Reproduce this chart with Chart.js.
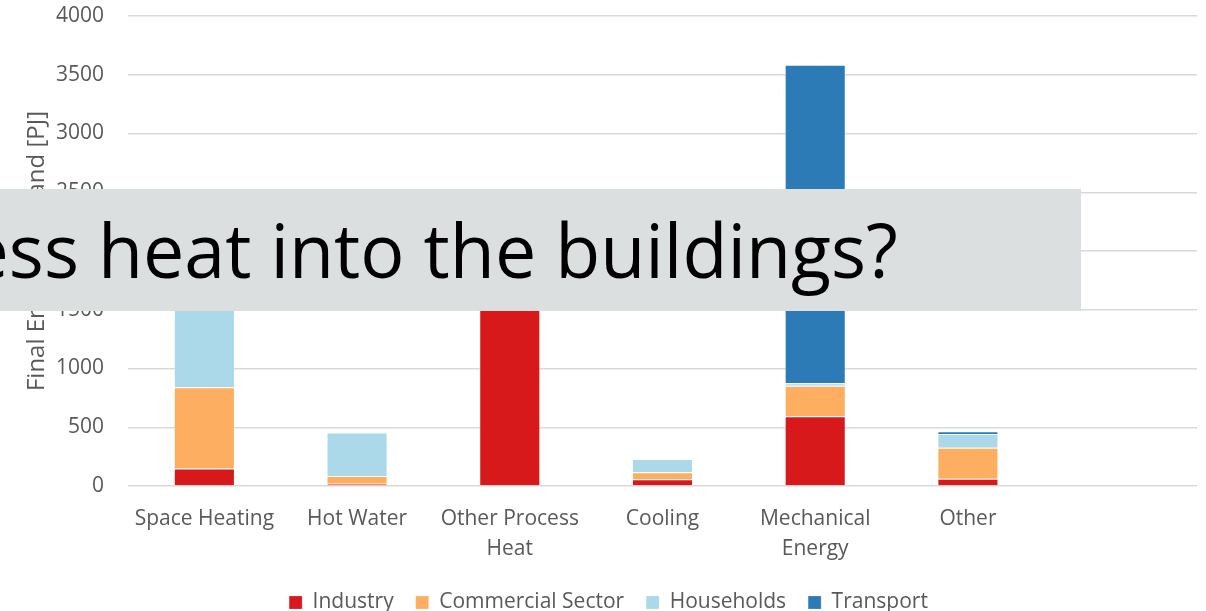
<!DOCTYPE html>
<html>
<head>
<meta charset="utf-8">
<script src="https://cdn.jsdelivr.net/npm/chart.js@4"></script>
<style>
    html, body { margin: 0; padding: 0; background: #fff; }
    #wrap { position: relative; width: 1206px; height: 611px; overflow: hidden; }
    #banner {
        position: absolute; left: 0; top: 189px; width: 1081px; height: 122px;
        background: #dcdfe0; overflow: hidden;
    }
    #banner span {
        position: absolute; right: 183px; top: 23px;
        font-family: "Open Sans", sans-serif; font-size: 75px; line-height: 75px;
        color: #000; white-space: nowrap;
        transform: scaleX(0.98); transform-origin: right center;
    }
</style>
</head>
<body>
<div id="wrap">
    <canvas id="demandChart" width="1206" height="623"></canvas>
    <div id="banner"><span>How to bring process heat into the buildings?</span></div>
</div>
<script>
// Final energy demand by use and sector [PJ]
const categories = ['Space Heating', 'Hot Water', ['Other Process', 'Heat'], 'Cooling', ['Mechanical', 'Energy'], 'Other', ''];
const industry   = [150, 20, 1900, 57, 593, 62, null];
const commercial = [690, 65, 0, 60, 261, 264, null];
const households = [1160, 370, 0, 113, 20, 117, null];
const transport  = [0, 0, 0, 0, 2712, 22, null];
const yTicks = [0, 500, 1000, 1500, 2000, 2500, 3000, 3500, 4000];

const textColor = '#595959';
const gridColor = '#d9d9d9';
const font = { family: 'Open Sans', size: 21 };
const legendGap = 22;

function series(label, data, color) {
    return {
        label: label,
        data: data,
        backgroundColor: color,
        borderColor: 'rgba(255, 255, 255, 0.2)',
        borderWidth: 1,
        categoryPercentage: 1,
        barPercentage: 0.4
    };
}

new Chart(document.getElementById('demandChart'), {
    type: 'bar',
    data: {
        labels: categories,
        datasets: [
            series('Industry', industry, '#d7191c'),
            series('Commercial Sector', commercial, '#fdae61'),
            series('Households', households, '#abd9e9'),
            series('Transport', transport, '#2c7bb6')
        ]
    },
    options: {
        responsive: false,
        animation: false,
        layout: { padding: { top: 16, right: 9, bottom: 0, left: 20 } },
        plugins: {
            tooltip: { enabled: false },
            legend: {
                position: 'bottom',
                labels: {
                    color: textColor,
                    font: font,
                    boxWidth: 13,
                    boxHeight: 13,
                    padding: legendGap
                }
            }
        },
        scales: {
            x: {
                stacked: true,
                grid: { display: false },
                border: { display: false },
                afterFit: (scale) => { scale.height = 106 - legendGap; },
                ticks: {
                    color: textColor,
                    font: { family: 'Open Sans', size: 21, lineHeight: 30 / 21 },
                    padding: 10,
                    maxRotation: 0,
                    autoSkip: false
                }
            },
            y: {
                stacked: true,
                min: 0,
                max: 4000,
                afterBuildTicks: (scale) => { scale.ticks = yTicks.map(v => ({ value: v })); },
                afterFit: (scale) => {
                    scale.width = 108;
                    scale.paddingTop = 0;
                    scale.paddingBottom = 0;
                },
                grid: { color: gridColor, lineWidth: 1.5, drawTicks: false },
                border: { display: false },
                ticks: { color: textColor, font: font, padding: 24, callback: (v) => String(v) },
                title: {
                    display: true,
                    text: 'Final Energy Demand [PJ]',
                    color: textColor,
                    font: { family: 'Open Sans', size: 24 },
                    padding: { top: 3, bottom: 0 }
                }
            }
        }
    }
});
</script>
</body>
</html>
